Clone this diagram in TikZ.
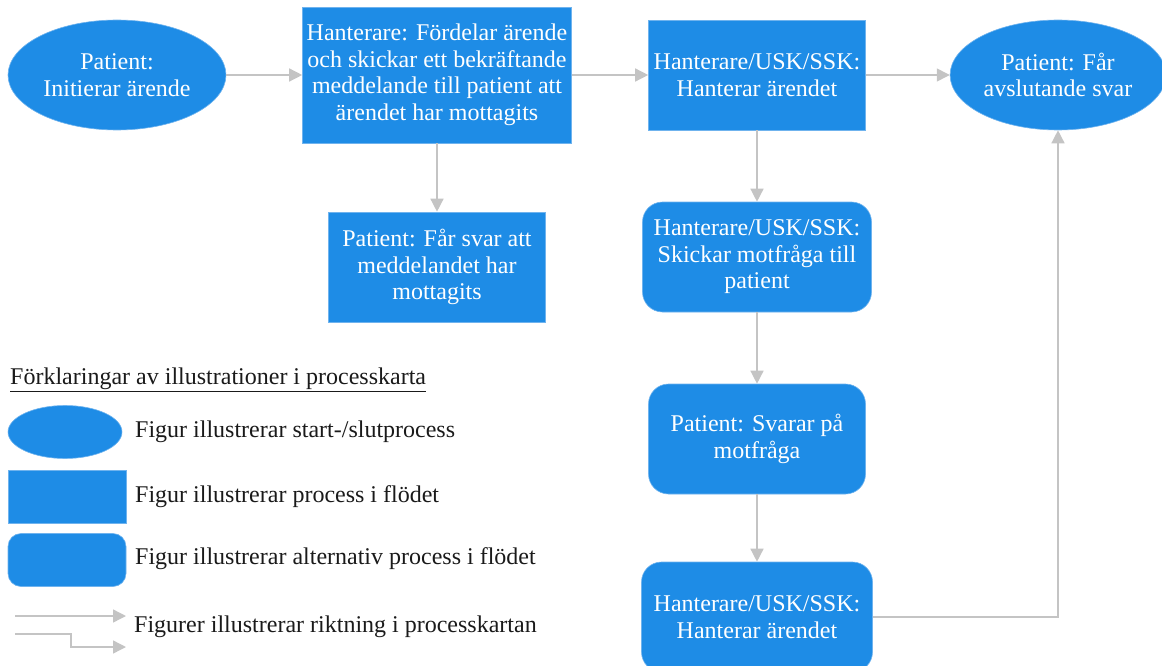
\documentclass[tikz,border=0pt]{standalone}
\usepackage{fontspec}
\setmainfont{Liberation Serif}
\usepackage{tikz}
\usetikzlibrary{arrows.meta,positioning,shapes.geometric}
\definecolor{flowblue}{HTML}{1E8CE6}
\definecolor{flowedge}{HTML}{6FB3EE}
\definecolor{pilgray}{HTML}{C4C4C4}
\definecolor{inktext}{HTML}{1A1A1A}

\begin{document}
\begin{tikzpicture}[x=1pt,y=-1pt,
		n/.style={draw=flowedge,line width=0.6pt,fill=flowblue,text=white,align=center,inner sep=2pt,
			font=\fontsize{24}{26.5}\selectfont},
		startslut/.style={n,ellipse,minimum width=218pt,minimum height=110pt},
		process/.style={n,rectangle,minimum height=110pt},
		altprocess/.style={n,rectangle,rounded corners=20pt,minimum height=110pt},
		pil/.style={-{Triangle[length=13pt,width=13pt]},draw=pilgray,line width=1.4pt},
		legtext/.style={anchor=west,text=inktext,inner sep=0pt,font=\fontsize{24}{26.5}\selectfont}
		]
		\useasboundingbox (0,0) rectangle (1162,666);
		\clip (0,0) rectangle (1162,666);

		% Process map
		\node[startslut] (init) at (117,75) {Patient:\\Initierar ärende};
		\node[process,minimum width=269pt,minimum height=136pt] (fordel) at (437,75) {Hanterare: Fördelar ärende\\och skickar ett bekräftande\\meddelande till patient att\\ärendet har mottagits};
		\node[process,minimum width=217pt] (hant1) at (757,75) {Hanterare/USK/SSK:\\Hanterar ärendet};
		\node[startslut,minimum width=214pt] (slut) at (1058,75) {Patient: Får\\avslutande svar};
		\node[process,minimum width=217pt] (kvitto) at (437,267) {Patient: Får svar att\\meddelandet har\\mottagits};
		\node[altprocess,minimum width=229pt] (motfr) at (757,257) {Hanterare/USK/SSK:\\Skickar motfråga till\\patient};
		\node[altprocess,minimum width=217pt] (svar) at (757,439) {Patient: Svarar på\\motfråga};
		\node[altprocess,minimum width=231pt] (hant2) at (757,617) {Hanterare/USK/SSK:\\Hanterar ärendet};

		\draw[pil] (init) -- (fordel);
		\draw[pil] (fordel) -- (hant1);
		\draw[pil] (hant1) -- (slut);
		\draw[pil] (fordel) -- (kvitto);
		\draw[pil] (hant1) -- (motfr);
		\draw[pil] (motfr) -- (svar);
		\draw[pil] (svar) -- (hant2);
		\draw[pil] (hant2.east) -| (slut.south);

		% Legend
		\node[legtext] (legtitel) at (10,380) {\underline{Förklaringar av illustrationer i processkarta}};
		\node[n,ellipse,minimum width=114pt,minimum height=53pt] (legell) at (65,432) {};
		\node[n,rectangle,minimum width=118pt,minimum height=53pt] (legrect) at (67,497) {};
		\node[n,rectangle,rounded corners=13pt,minimum width=118pt,minimum height=53pt] (legrund) at (67,560) {};
		\node[legtext] (txtell) at (135,432) {Figur illustrerar start-/slutprocess};
		\node[legtext] (txtrect) at (135,497) {Figur illustrerar process i flödet};
		\node[legtext] (txtrund) at (135,559) {Figur illustrerar alternativ process i flödet};
		\node[legtext] (txtpil) at (134,627) {Figurer illustrerar riktning i processkartan};

		\coordinate (p1a) at (15,616);
		\coordinate (p1b) at (126,616);
		\coordinate (p2a) at (15,634);
		\coordinate (p2b) at (126,647);
		\draw[pil] (p1a) -- (p1b);
		\draw[pil] (p2a) -- (71,634) |- (p2b);
	\end{tikzpicture}
\end{document}
